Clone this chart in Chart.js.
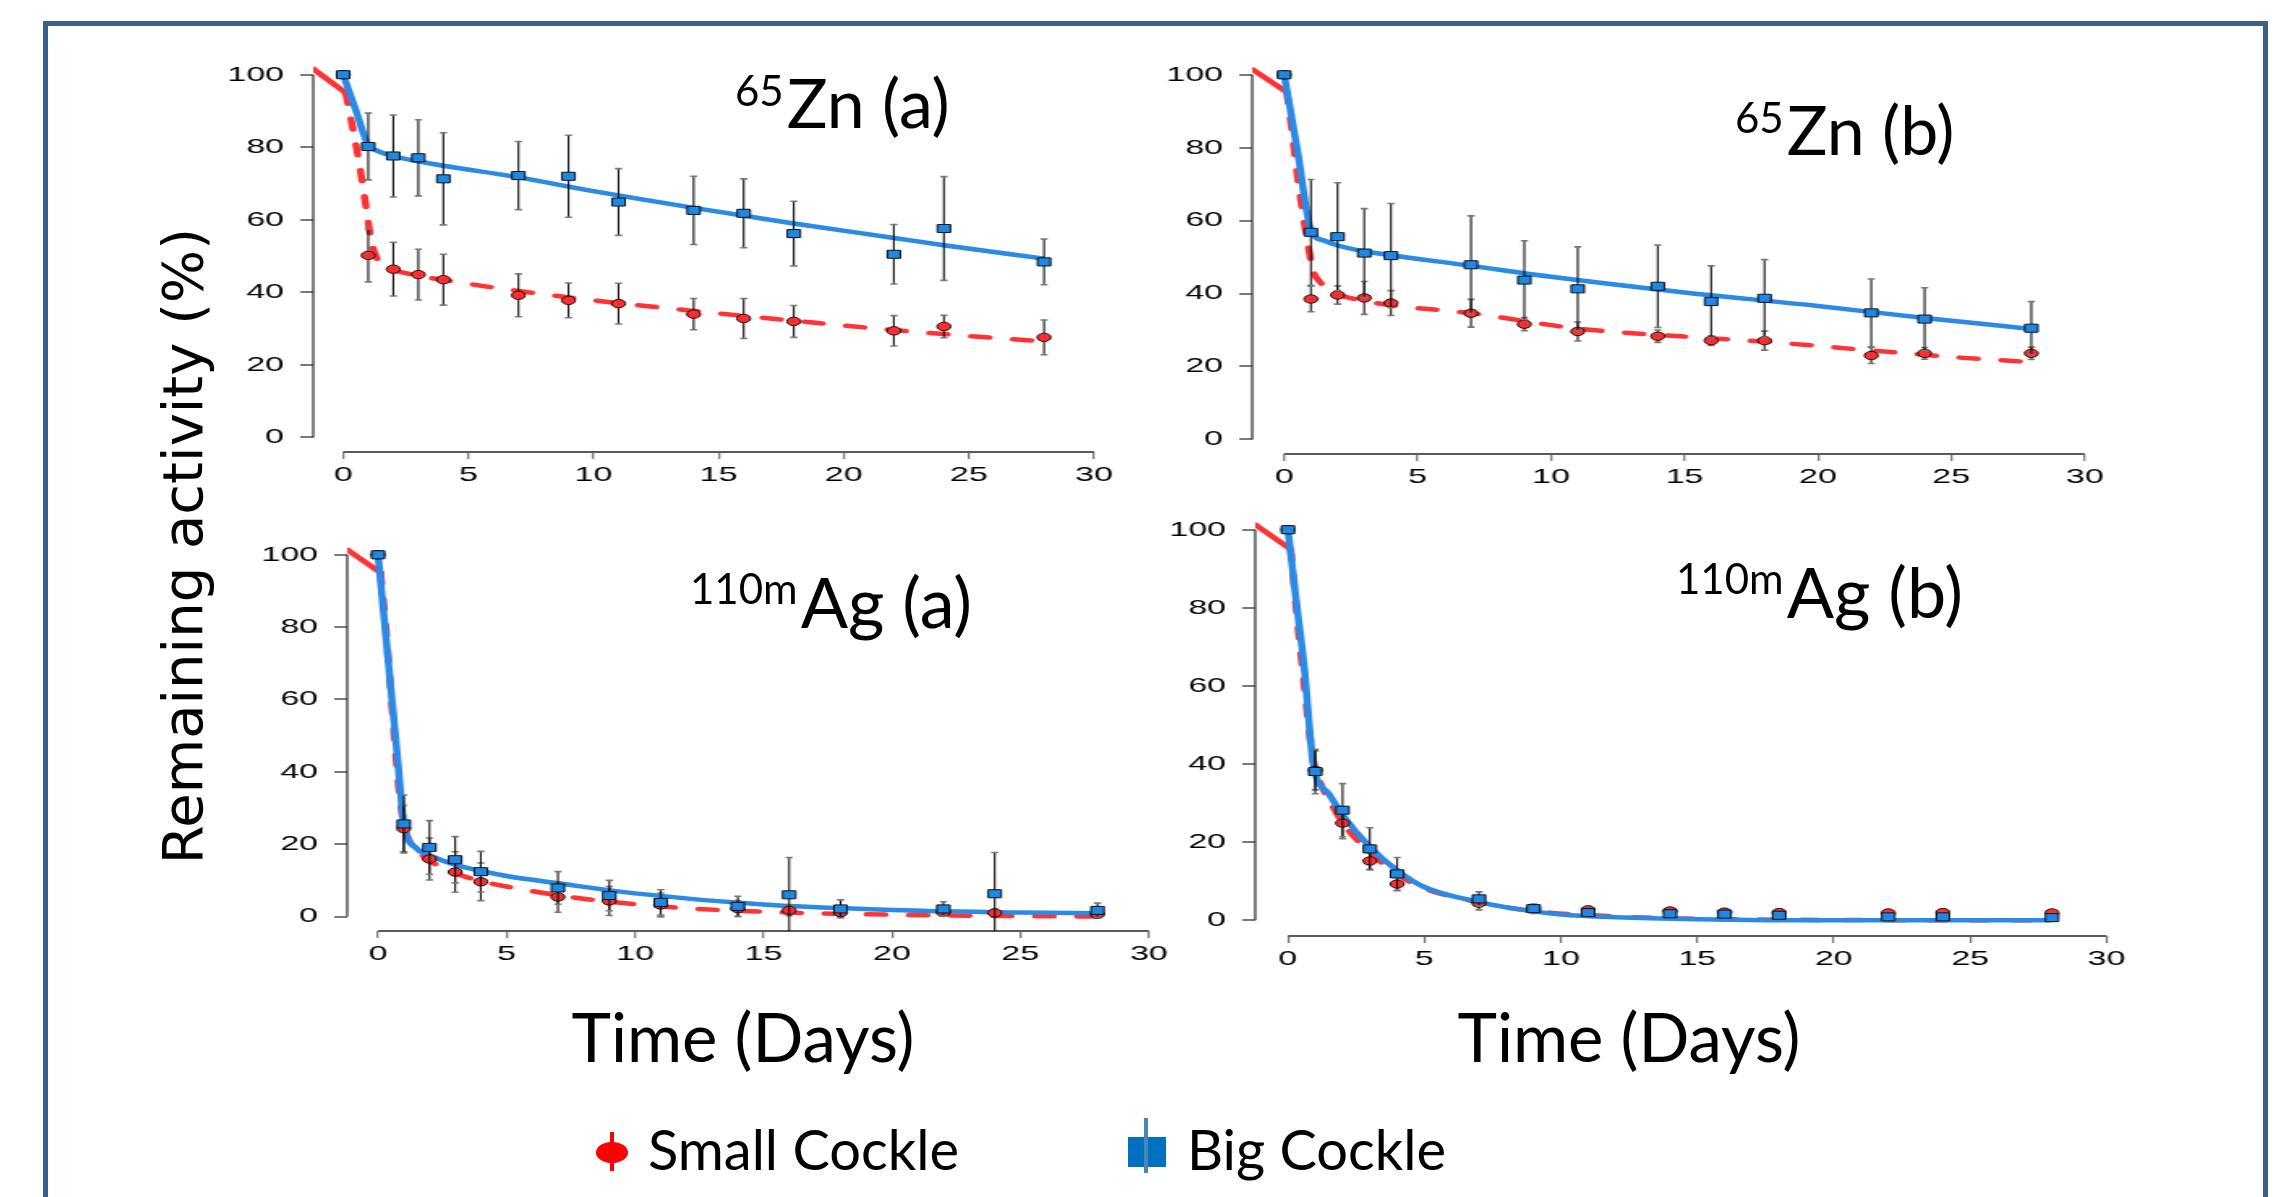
<!DOCTYPE html>
<html>
<head>
<meta charset="utf-8">
<script src="https://cdn.jsdelivr.net/npm/chart.js@4.4.0/dist/chart.umd.min.js"></script>
<style>
  body { margin: 0; width: 2282px; height: 1197px; overflow: hidden; background: #fff; position: relative; }
  .frame { position: absolute; left: 43px; top: 21px; width: 2225px; height: 1300px; border: 5px solid #3b5e8d; box-sizing: border-box; }
  canvas { position: absolute; transform-origin: 0 0; }
  .txt { position: absolute; white-space: nowrap; color: #000; line-height: 1; font-family: Lato, "Open Sans", sans-serif; }
  .ytitle { position: absolute; left: 182px; top: 546px; transform: translate(-50%, -50%) rotate(-90deg);
            font: 56px "DejaVu Sans", sans-serif; white-space: nowrap; color: #000; }
  .mk { position: absolute; }
</style>
</head>
<body>
<div class="frame"></div>
<div class="ytitle">Remaining activity (%)</div>
<canvas id="znA"></canvas>
<canvas id="znB"></canvas>
<canvas id="agA"></canvas>
<canvas id="agB"></canvas>
<div id="texts"></div>
<script>
// sampling days and axis ticks
const days = [0, 1, 2, 3, 4, 7, 9, 11, 14, 16, 18, 22, 24, 28];
const xTicks = [0, 5, 10, 15, 20, 25, 30];
const yTicks = [0, 20, 40, 60, 80, 100];
const seriesNames = ["Small Cockle", "Big Cockle"];

// 65Zn (a)
const znA_small = [100, 50.2, 46.4, 44.9, 43.5, 39.2, 37.8, 36.9, 34.0, 32.8, 32.0, 29.4, 30.6, 27.6];
const znA_smallErr = [0, 7.3, 7.4, 7.0, 7.0, 5.9, 4.8, 5.6, 4.3, 5.5, 4.4, 4.2, 3.1, 4.8];
const znA_big = [100, 80.2, 77.6, 77.1, 71.3, 72.2, 72.0, 64.9, 62.6, 61.8, 56.2, 50.5, 57.6, 48.4];
const znA_bigErr = [0, 9.2, 11.3, 10.5, 12.7, 9.4, 11.3, 9.2, 9.4, 9.5, 8.9, 8.2, 14.3, 6.3];
const znA_smallFitX = [-1.2, 0.1, 0.3, 0.5, 0.7, 0.9, 1.1, 1.3, 1.6, 2, 3, 4, 7, 10, 14, 18, 22, 24, 28];
const znA_smallFit = [101.6, 95, 88, 81, 73, 64, 55, 50, 47.5, 46.2, 44.6, 43.4, 40.4, 37.8, 34.9, 32.2, 29.6, 28.5, 26.5];
const znA_bigFitX = [0, 0.5, 1, 1.3, 2, 3, 4, 7, 10, 14, 18, 22, 24, 28];
const znA_bigFit = [100, 90.3, 80.5, 79.2, 77.6, 76.1, 74.9, 71.7, 67.9, 63.3, 59, 55, 53, 49.3];

// 65Zn (b)
const znB_small = [100, 38.5, 39.6, 38.8, 37.4, 34.6, 31.6, 29.6, 28.3, 27.1, 27.1, 23.0, 23.6, 23.6];
const znB_smallErr = [0, 3.5, 2.5, 4.5, 3.4, 3.8, 1.8, 2.6, 1.7, 1.3, 2.6, 2.2, 1.6, 1.7];
const znB_big = [100, 56.8, 55.6, 51.1, 50.4, 47.9, 43.7, 41.3, 42.0, 37.8, 38.7, 34.7, 33.0, 30.5];
const znB_bigErr = [0, 14.5, 14.8, 12.2, 14.3, 13.4, 10.8, 11.5, 11.3, 9.8, 10.6, 9.3, 8.6, 7.3];
const znB_smallFitX = [-1.2, 0.1, 0.3, 0.5, 0.7, 0.9, 1.1, 1.3, 1.6, 2, 3, 4, 7, 11, 15, 18, 22, 25, 28];
const znB_smallFit = [101.5, 95.2, 84, 72, 62, 53, 46, 43.5, 41.5, 39.8, 38, 36.8, 34.6, 30.4, 28.2, 26.8, 24.4, 22.6, 21.2];
const znB_bigFitX = [0, 0.5, 1, 1.5, 2, 3, 4, 7, 10, 15, 20, 24, 28];
const znB_bigFit = [100, 79, 57.5, 54.5, 53.2, 51.6, 50.5, 47.6, 44.6, 40.3, 36.6, 33.3, 30.3];

// 110mAg (a)
const agA_small = [100, 24.3, 15.9, 12.3, 9.6, 5.4, 4.3, 3.2, 2.2, 1.7, 1.1, 1.1, 1.0, 0.6];
const agA_smallErr = [0, 6.4, 5.8, 5.6, 5.2, 4.2, 4.0, 3.3, 2.2, 1.5, 1.2, 1.0, 1.0, 0.8];
const agA_big = [100, 25.6, 19.1, 15.7, 12.4, 7.9, 5.8, 3.9, 2.8, 6.0, 2.1, 2.1, 6.3, 1.7];
const agA_bigErr = [0, 8.0, 7.4, 6.4, 5.6, 4.5, 4.2, 3.5, 2.8, 10.3, 2.5, 2.0, 11.4, 2.0];
const agA_smallFitX = [-1.2, 0.1, 0.3, 0.5, 0.7, 0.9, 1.1, 1.5, 2, 3, 4, 5, 7, 9, 12, 16, 20, 25, 28];
const agA_smallFit = [101.4, 95, 80, 62, 44, 30, 23, 18.5, 15.5, 12, 9.8, 8.3, 5.9, 4.1, 2.3, 1.1, 0.5, 0.1, 0];
const agA_bigFitX = [0, 0.25, 0.5, 0.75, 1, 1.5, 2, 3, 4, 5, 7, 10, 15, 20, 25, 28];
const agA_bigFit = [100, 81.5, 63, 44.5, 26, 18.8, 16.9, 14.3, 12.6, 11.2, 9.2, 6.4, 3.3, 1.8, 1.1, 0.9];

// 110mAg (b)
const agB_small = [100, 38.4, 24.9, 15.2, 9.3, 4.4, 3.0, 2.7, 2.4, 2.1, 2.0, 1.9, 2.0, 1.9];
const agB_smallErr = [0, 5.0, 4.0, 2.1, 1.7, 1.7, 1.0, 0.8, 0.7, 0.7, 0.7, 0.6, 0.6, 0.7];
const agB_big = [100, 38.1, 28.2, 18.3, 11.9, 5.5, 3.0, 2.0, 1.7, 1.6, 1.3, 0.9, 0.9, 0.7];
const agB_bigErr = [0, 5.7, 6.8, 5.4, 4.2, 1.8, 1.2, 1.0, 0.6, 0.5, 0.5, 0.4, 0.4, 0.4];
const agB_smallFitX = [-1.2, 0.1, 0.3, 0.6, 0.9, 1.2, 1.5, 2, 3, 4, 5, 7, 9, 12, 15, 20, 28];
const agB_smallFit = [101.3, 95, 80, 60, 42, 35, 31, 25, 17.5, 11.8, 8.2, 4.6, 2.4, 1.0, 0.4, 0.1, 0];
const agB_bigFitX = [0, 0.3, 0.6, 0.93, 1.5, 2, 3, 4, 5, 7, 9, 10, 12, 15, 20, 28];
const agB_bigFit = [100, 82, 64.5, 40, 32.4, 27, 18.8, 12.8, 8.5, 4.7, 2.3, 1.5, 0.8, 0.3, 0, 0];

const RED = "#ff3333";
const BLUE = "#2a8ae6";
const K = 1.62;   // the original plots are stretched sideways
const YW = 60, XH = 48;

const pts = (xs, ys) => xs.map((x, i) => ({ x: x, y: ys[i] }));

// R style axes: lines only run from first to last tick
const rAxes = {
  id: "rAxes",
  beforeDatasetsDraw(chart) {
    const { ctx, chartArea: a, scales: { x, y } } = chart;
    ctx.save();
    ctx.strokeStyle = "#3a3a3a";
    ctx.lineWidth = 1.3;
    ctx.beginPath();
    ctx.moveTo(a.left, y.getPixelForValue(yTicks[0]));
    ctx.lineTo(a.left, y.getPixelForValue(yTicks[yTicks.length - 1]));
    ctx.stroke();
    ctx.strokeStyle = "#5a5a5a";
    ctx.lineWidth = 2;
    ctx.beginPath();
    ctx.moveTo(x.getPixelForValue(xTicks[0]), a.bottom);
    ctx.lineTo(x.getPixelForValue(xTicks[xTicks.length - 1]), a.bottom);
    ctx.stroke();
    ctx.restore();
  },
};

// error bars drawn just under their own markers
const errorBars = {
  id: "errorBars",
  beforeDatasetDraw(chart, args) {
    const ds = chart.data.datasets[args.index];
    if (!ds.errors) return;
    const { ctx, chartArea: a, scales: { x, y } } = chart;
    ctx.save();
    ctx.beginPath();
    ctx.rect(a.left, a.top, a.right - a.left, a.bottom - a.top);
    ctx.clip();
    ds.data.forEach((p, i) => {
      const e = ds.errors[i];
      if (!e) return;
      const px = x.getPixelForValue(p.x);
      const top = y.getPixelForValue(p.y + e);
      const bot = y.getPixelForValue(p.y - e);
      ctx.strokeStyle = "#111";
      ctx.lineWidth = 1.1;
      ctx.beginPath();
      ctx.moveTo(px, top);
      ctx.lineTo(px, bot);
      ctx.stroke();
      ctx.strokeStyle = "#777";
      ctx.lineWidth = 1.6;
      ctx.beginPath();
      ctx.moveTo(px - 2.2, top); ctx.lineTo(px + 2.2, top);
      ctx.moveTo(px - 2.2, bot); ctx.lineTo(px + 2.2, bot);
      ctx.stroke();
    });
    ctx.restore();
  },
};

const panels = [
  { id: "znA", box: [313.5, 1124.4, 59.7, 451.5],
    small: znA_small, smallErr: znA_smallErr, big: znA_big, bigErr: znA_bigErr,
    sFitX: znA_smallFitX, sFit: znA_smallFit, bFitX: znA_bigFitX, bFit: znA_bigFit },
  { id: "znB", box: [1252.2, 2116.7, 60.1, 453.9],
    small: znB_small, smallErr: znB_smallErr, big: znB_big, bigErr: znB_bigErr,
    sFitX: znB_smallFitX, sFit: znB_smallFit, bFitX: znB_bigFitX, bFit: znB_bigFit },
  { id: "agA", box: [347.6, 1180.1, 540.5, 931.2],
    small: agA_small, smallErr: agA_smallErr, big: agA_big, bigErr: agA_bigErr,
    sFitX: agA_smallFitX, sFit: agA_smallFit, bFitX: agA_bigFitX, bFit: agA_bigFit },
  { id: "agB", box: [1255.1, 2139.2, 513.7, 935.6],
    small: agB_small, smallErr: agB_smallErr, big: agB_big, bigErr: agB_bigErr,
    sFitX: agB_smallFitX, sFit: agB_smallFit, bFitX: agB_bigFitX, bFit: agB_bigFit },
];

const tickFont = { family: "Liberation Sans", size: 21 };

panels.forEach((p) => {
  const [L, R, T, B] = p.box;
  const plotW = (R - L) / K;
  const cw = Math.ceil(YW + plotW + 12);
  const ch = Math.ceil(14 + (B - T) + XH);
  const padTop = ch - XH - (B - T);
  const padRight = cw - YW - plotW;
  const canvas = document.getElementById(p.id);
  canvas.width = cw;
  canvas.height = ch;
  canvas.style.width = cw + "px";
  canvas.style.height = ch + "px";
  canvas.style.left = (L - YW * K) + "px";
  canvas.style.top = (T - padTop) + "px";
  canvas.style.transform = "scaleX(" + K + ")";

  new Chart(canvas, {
    type: "scatter",
    data: {
      datasets: [
        {
          // straight solid lead-in of the small cockle fit, left of day 0
          label: seriesNames[0] + " fit lead",
          data: pts(p.sFitX.slice(0, 2), p.sFit.slice(0, 2)),
          showLine: true,
          borderColor: RED,
          borderWidth: 4.5,
          borderCapStyle: "round",
          pointRadius: 0,
          tension: 0,
          order: 5,
        },
        {
          label: seriesNames[0] + " fit",
          data: pts(p.sFitX.slice(1), p.sFit.slice(1)),
          showLine: true,
          borderColor: RED,
          borderWidth: 4.5,
          borderDash: [11, 15],
          borderCapStyle: "round",
          pointRadius: 0,
          cubicInterpolationMode: "monotone",
          order: 4,
        },
        {
          label: seriesNames[1] + " fit",
          data: pts(p.bFitX, p.bFit),
          showLine: true,
          borderColor: BLUE,
          borderWidth: 4.5,
          pointRadius: 0,
          cubicInterpolationMode: "monotone",
          order: 3,
        },
        {
          label: seriesNames[0],
          data: pts(days, p.small),
          errors: p.smallErr,
          pointStyle: "circle",
          pointRadius: 4.2,
          backgroundColor: "#ff2d2d",
          borderColor: "#111",
          borderWidth: 1,
          order: 2,
        },
        {
          label: seriesNames[1],
          data: pts(days, p.big),
          errors: p.bigErr,
          pointStyle: "rect",
          pointRadius: 5.7,
          backgroundColor: "#1e88e5",
          borderColor: "#111",
          borderWidth: 1,
          order: 1,
        },
      ],
    },
    options: {
      responsive: false,
      animation: false,
      events: [],
      layout: { autoPadding: false, padding: { top: padTop, right: padRight, left: 0, bottom: 0 } },
      plugins: { legend: { display: false }, tooltip: { enabled: false } },
      scales: {
        x: {
          type: "linear",
          min: -1.2,
          max: 31.2,
          afterBuildTicks: (s) => { s.ticks = xTicks.map((v) => ({ value: v })); },
          afterFit: (s) => { s.height = XH; s.paddingLeft = 0; s.paddingRight = 0; },
          border: { display: false },
          grid: { drawOnChartArea: false, drawTicks: true, tickLength: 7, color: "#7a7a7a", lineWidth: 1.3 },
          ticks: { font: tickFont, color: "#000", padding: 4, maxRotation: 0, autoSkip: false },
        },
        y: {
          type: "linear",
          min: -4,
          max: 104,
          afterBuildTicks: (s) => { s.ticks = yTicks.map((v) => ({ value: v })); },
          afterFit: (s) => { s.width = YW; s.paddingTop = 0; s.paddingBottom = 0; },
          border: { display: false },
          grid: { drawOnChartArea: false, drawTicks: true, tickLength: 8, color: "#7a7a7a", lineWidth: 2 },
          ticks: { font: tickFont, color: "#000", padding: 10, autoSkip: false },
        },
      },
    },
    plugins: [rAxes, errorBars],
  });
});

// panel titles, axis titles and legend as page text
const texts = document.getElementById("texts");
function addText(html, left, top, size, center) {
  const d = document.createElement("div");
  d.className = "txt";
  d.style.left = left + "px";
  d.style.top = top + "px";
  d.style.fontSize = size + "px";
  if (center) d.style.transform = "translateX(-50%)";
  d.innerHTML = html;
  texts.appendChild(d);
  return d;
}
// baseline of a one-line Lato box with line-height 1
const baseOff = (s) => s * 0.987 - (s * 1.2 - s) / 2;

const titles = [
  { sup: "65", main: "Zn (a)", left: 735, base: 130 },
  { sup: "65", main: "Zn (b)", left: 1735, base: 157 },
  { sup: "110m", main: "Ag (a)", left: 690, base: 628 },
  { sup: "110m", main: "Ag (b)", left: 1676, base: 618 },
];
titles.forEach((t) => {
  const s = addText(t.sup, t.left, t.base - 24 - baseOff(42), 42, false);
  const w = s.getBoundingClientRect().width;
  addText(t.main, t.left + w + 3, t.base - baseOff(70), t.main.startsWith("Zn") ? 68 : 70, false);
});

addText("Time (Days)", 743, 1062 - baseOff(67), 67, true);
addText("Time (Days)", 1629, 1062 - baseOff(67), 67, true);

addText(seriesNames[0], 648, 1171 - baseOff(56), 56, false);
addText(seriesNames[1], 1187, 1171 - baseOff(56), 56, false);

function mark(css) {
  const d = document.createElement("div");
  d.className = "mk";
  Object.assign(d.style, css);
  texts.appendChild(d);
}
// legend keys
mark({ left: "596px", top: "1142px", width: "32px", height: "21px", borderRadius: "50%", background: "#ff0000" });
mark({ left: "610px", top: "1132px", width: "4px", height: "39px", background: "#ff0000" });
mark({ left: "1128px", top: "1137px", width: "38px", height: "30px", background: "#0070c0" });
mark({ left: "1144px", top: "1118px", width: "4px", height: "55px", background: "#4f81bd" });
</script>
</body>
</html>
